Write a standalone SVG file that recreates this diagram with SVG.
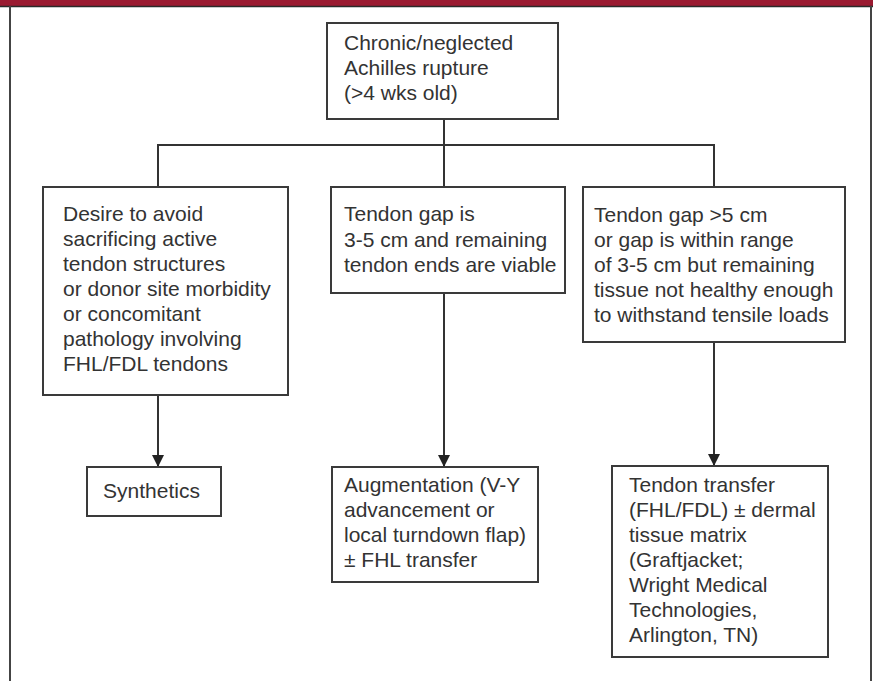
<svg xmlns="http://www.w3.org/2000/svg" width="873" height="681" viewBox="0 0 873 681">
<style>
.box{fill:#fff;stroke:#3a3a3a;stroke-width:2}
.t{font-family:"Liberation Sans",Arial,Helvetica,sans-serif;font-size:21px;fill:#333}
.c{fill:none;stroke:#333;stroke-width:2}
.frame{stroke:#444;stroke-width:2;fill:none}
</style>
<defs>
<marker id="ah" markerWidth="12" markerHeight="12" refX="12" refY="6" orient="auto" markerUnits="userSpaceOnUse">
<path d="M0,0 L12,6 L0,12 Z" fill="#222"/>
</marker>
</defs>
<rect x="0" y="0" width="873" height="681" fill="#fff"/>
<rect x="0" y="0" width="873" height="6" fill="#9a1a31"/>
<line x1="0" y1="6.5" x2="873" y2="6.5" stroke="#2a2a2a" stroke-width="1.5"/>
<line class="frame" x1="10" y1="6" x2="10" y2="681"/>
<line class="frame" x1="871" y1="6" x2="871" y2="681"/>

<g id="connectors">
<line class="c" x1="444" y1="119" x2="444" y2="145"/>
<line class="c" x1="157" y1="145" x2="715" y2="145"/>
<line class="c" x1="158" y1="145" x2="158" y2="187"/>
<line class="c" x1="444" y1="145" x2="444" y2="187"/>
<line class="c" x1="714" y1="145" x2="714" y2="187"/>
<line class="c" x1="158" y1="395" x2="158" y2="467" marker-end="url(#ah)"/>
<line class="c" x1="444" y1="293" x2="444" y2="467" marker-end="url(#ah)"/>
<line class="c" x1="714" y1="342" x2="714" y2="466" marker-end="url(#ah)"/>
</g>

<g id="root">
<rect class="box" x="327" y="23" width="231" height="96"/>
<text class="t" x="344" y="50">Chronic/neglected</text>
<text class="t" x="344" y="75">Achilles rupture</text>
<text class="t" x="344" y="100">(&gt;4 wks old)</text>
</g>

<g id="left">
<rect class="box" x="43" y="187" width="245" height="208"/>
<text class="t" x="63" y="221">Desire to avoid</text>
<text class="t" x="63" y="246">sacrificing active</text>
<text class="t" x="63" y="271">tendon structures</text>
<text class="t" x="63" y="296">or donor site morbidity</text>
<text class="t" x="63" y="321">or concomitant</text>
<text class="t" x="63" y="346">pathology involving</text>
<text class="t" x="63" y="371">FHL/FDL tendons</text>
</g>

<g id="middle">
<rect class="box" x="331" y="187" width="234" height="106"/>
<text class="t" x="344" y="221">Tendon gap is</text>
<text class="t" x="344" y="247">3-5 cm and remaining</text>
<text class="t" x="344" y="272">tendon ends are viable</text>
</g>

<g id="right">
<rect class="box" x="583" y="187" width="262" height="155"/>
<text class="t" x="594" y="222">Tendon gap &gt;5 cm</text>
<text class="t" x="594" y="247">or gap is within range</text>
<text class="t" x="594" y="272">of 3-5 cm but remaining</text>
<text class="t" x="594" y="297">tissue not healthy enough</text>
<text class="t" x="594" y="322">to withstand tensile loads</text>
</g>

<g id="synthetics">
<rect class="box" x="87" y="467" width="134" height="49"/>
<text class="t" x="103" y="498">Synthetics</text>
</g>

<g id="augmentation">
<rect class="box" x="332" y="467" width="206" height="115"/>
<text class="t" x="344" y="492">Augmentation (V-Y</text>
<text class="t" x="344" y="517">advancement or</text>
<text class="t" x="344" y="542">local turndown flap)</text>
<text class="t" x="344" y="567">± FHL transfer</text>
</g>

<g id="transfer">
<rect class="box" x="612" y="466" width="216" height="191"/>
<text class="t" x="629" y="492">Tendon transfer</text>
<text class="t" x="629" y="517">(FHL/FDL) ± dermal</text>
<text class="t" x="629" y="542">tissue matrix</text>
<text class="t" x="629" y="567">(Graftjacket;</text>
<text class="t" x="629" y="592">Wright Medical</text>
<text class="t" x="629" y="617">Technologies,</text>
<text class="t" x="629" y="642">Arlington, TN)</text>
</g>
</svg>
